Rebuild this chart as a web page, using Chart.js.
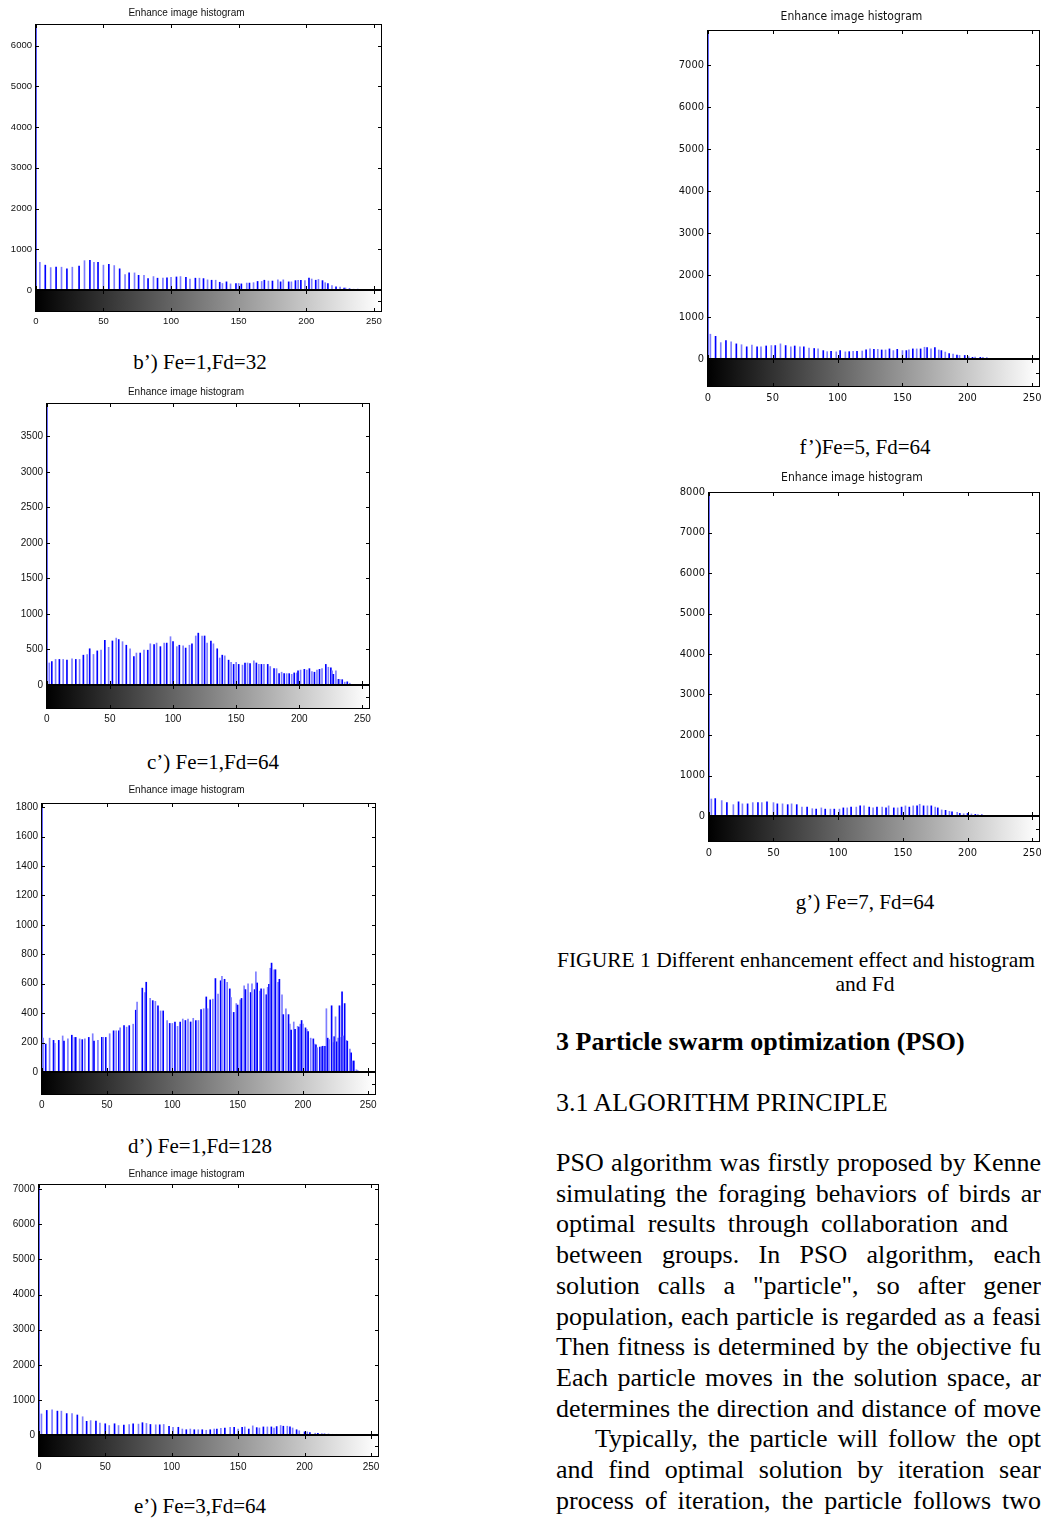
<!DOCTYPE html>
<html>
<head>
<meta charset="utf-8">
<script src="https://cdn.jsdelivr.net/npm/chart.js@4.4.1/dist/chart.umd.min.js"></script>
<style>
body{margin:0;width:1041px;height:1520px;overflow:hidden;background:#fff;position:relative;font-family:"Liberation Serif","Times New Roman",serif;color:#000}
canvas{position:absolute}
.cap{position:absolute;font-size:21px;line-height:24px;white-space:nowrap;transform:translateX(-50%)}
.txt{position:absolute;left:556px;font-size:26px;line-height:30px;white-space:nowrap}
</style>
</head>
<body>
<canvas id="histB"></canvas>
<canvas id="histC"></canvas>
<canvas id="histD"></canvas>
<canvas id="histE"></canvas>
<canvas id="histF"></canvas>
<canvas id="histG"></canvas>

<div class="cap" style="left:200px;top:350px">b’) Fe=1,Fd=32</div>
<div class="cap" style="left:213px;top:750px">c’) Fe=1,Fd=64</div>
<div class="cap" style="left:200px;top:1134px">d’) Fe=1,Fd=128</div>
<div class="cap" style="left:200px;top:1494px">e’) Fe=3,Fd=64</div>
<div class="cap" style="left:865px;top:435px">f’)Fe=5, Fd=64</div>
<div class="cap" style="left:865px;top:890px">g’) Fe=7, Fd=64</div>

<div class="cap" style="left:557px;top:948px;transform:none;font-size:21.5px">FIGURE 1 Different enhancement effect and histogram</div>
<div class="cap" style="left:865px;top:972px;font-size:21.5px">and Fd</div>
<div class="txt" style="top:1027px;font-weight:bold">3 Particle swarm optimization (PSO)</div>
<div class="txt" style="top:1088px">3.1 ALGORITHM PRINCIPLE</div>
<div id="para"></div>

<script>
// gray level / pixel count pairs
const histB = [[0,6530],[3,680],[7,610],[11,550],[15,560],[19,560],[23,520],[27,560],[32,590],[36,720],[40,730],[43,680],[46,680],[50,610],[54,630],[58,600],[62,520],[66,380],[69,420],[73,420],[76,360],[80,360],[83,280],[87,330],[90,290],[94,290],[97,300],[100,310],[104,320],[107,330],[111,310],[114,270],[118,290],[121,290],[124,280],[127,250],[130,240],[133,240],[136,190],[138,160],[141,200],[144,150],[148,160],[150,160],[152,150],[156,170],[158,170],[161,180],[164,210],[167,210],[169,240],[172,220],[175,220],[179,250],[181,200],[183,250],[187,200],[189,200],[192,230],[194,240],[196,240],[199,230],[202,290],[204,270],[207,240],[209,260],[212,230],[214,180],[216,160],[219,110],[222,80],[225,70],[228,50],[229,50],[232,30],[235,20],[238,20],[240,15],[243,10],[246,8],[249,6],[252,5],[255,4]];

const histC = [[0,3970],[2,310],[4,330],[7,360],[10,360],[13,360],[16,350],[20,370],[23,360],[26,360],[29,420],[32,430],[34,510],[37,430],[40,480],[43,490],[46,630],[49,530],[52,620],[55,660],[57,640],[60,610],[63,560],[66,510],[69,400],[71,450],[74,450],[77,490],[80,490],[82,580],[85,570],[87,590],[90,540],[93,590],[95,590],[98,680],[100,610],[103,540],[105,560],[108,550],[110,520],[113,560],[115,580],[118,690],[120,730],[123,690],[125,690],[127,590],[130,620],[132,580],[135,510],[137,380],[139,420],[141,410],[144,350],[146,320],[148,290],[150,320],[152,290],[155,280],[157,310],[159,310],[161,300],[164,340],[166,310],[168,290],[170,290],[172,290],[175,290],[177,260],[180,230],[182,230],[184,160],[186,180],[188,160],[190,160],[192,160],[194,150],[196,170],[198,170],[199,200],[201,210],[204,220],[206,210],[208,230],[210,190],[212,180],[214,210],[216,220],[218,230],[221,290],[223,250],[225,240],[226,200],[227,150],[229,200],[231,80],[232,80],[234,75],[236,40],[238,45],[240,25]];

const histD = [[0,1828],[1,230],[3,190],[6,230],[9,215],[10,195],[13,215],[16,245],[17,210],[20,225],[23,250],[25,235],[26,235],[29,225],[31,220],[33,225],[36,235],[39,260],[40,210],[43,215],[46,235],[47,235],[49,235],[52,260],[55,280],[57,280],[59,280],[60,300],[63,315],[65,305],[67,315],[70,325],[72,420],[73,475],[77,570],[79,540],[80,610],[83,500],[85,485],[87,480],[89,450],[91,415],[93,415],[96,350],[98,330],[100,330],[102,340],[104,310],[106,340],[108,360],[110,350],[112,360],[114,340],[116,365],[118,350],[120,350],[122,425],[124,430],[126,510],[127,430],[129,490],[131,495],[133,635],[135,530],[137,620],[138,650],[140,630],[142,610],[144,565],[145,505],[147,405],[149,465],[150,455],[152,490],[153,500],[155,585],[156,560],[158,600],[160,540],[161,600],[163,560],[164,680],[165,605],[167,550],[168,565],[170,565],[172,525],[173,575],[174,595],[175,705],[176,740],[178,695],[179,695],[181,610],[182,630],[184,525],[185,390],[187,430],[189,390],[190,325],[191,285],[193,340],[194,290],[196,310],[197,305],[198,325],[199,350],[200,325],[202,300],[203,290],[204,275],[206,230],[208,225],[209,190],[210,185],[211,165],[213,170],[214,170],[215,175],[216,175],[217,175],[218,430],[219,230],[220,220],[222,450],[223,200],[224,240],[225,375],[226,205],[227,230],[228,450],[229,235],[230,545],[231,245],[232,465],[233,215],[234,210],[236,155],[237,130],[238,75],[239,75],[241,15],[242,7]];

const histE = [[0,7150],[2,600],[6,700],[10,720],[14,680],[17,680],[21,610],[25,610],[29,570],[33,520],[36,390],[39,410],[43,400],[46,340],[50,320],[53,270],[57,320],[60,270],[64,280],[68,300],[71,320],[75,310],[78,350],[81,330],[84,300],[88,290],[91,290],[94,300],[98,250],[101,220],[105,220],[108,170],[111,150],[114,170],[117,150],[120,150],[123,150],[126,135],[129,150],[132,170],[134,170],[137,190],[140,200],[144,220],[147,220],[150,170],[153,220],[155,230],[158,170],[161,260],[164,210],[166,200],[169,230],[172,230],[175,230],[177,200],[179,240],[182,270],[184,250],[187,250],[189,230],[191,200],[194,150],[196,120],[200,90],[202,90],[204,70],[208,50],[210,50],[213,40],[215,30],[218,30],[221,20],[224,20],[229,10]];

const histF = [[0,7830],[2,590],[6,540],[10,390],[14,440],[18,410],[22,360],[26,340],[30,290],[34,330],[38,290],[41,290],[45,310],[49,320],[52,320],[56,360],[60,320],[64,290],[67,310],[71,290],[74,290],[78,260],[82,250],[85,240],[89,200],[92,175],[95,180],[99,170],[102,200],[106,170],[109,175],[112,180],[115,180],[119,190],[122,220],[125,240],[128,230],[131,230],[134,215],[137,215],[140,240],[143,200],[146,230],[150,200],[153,200],[155,220],[158,240],[161,240],[164,240],[167,280],[169,270],[172,240],[175,270],[178,215],[180,200],[183,165],[186,130],[189,120],[192,95],[194,85],[198,85],[201,55],[204,40],[206,45],[210,40],[212,40],[215,25],[220,15],[225,12],[230,10],[235,8],[240,8],[245,6],[250,6],[255,5]];

const histG = [[0,8000],[2,420],[5,430],[10,380],[14,330],[19,280],[23,350],[26,300],[30,300],[34,330],[38,330],[41,330],[45,350],[50,330],[53,300],[57,300],[61,280],[64,300],[68,280],[72,220],[76,220],[80,180],[83,170],[87,200],[90,170],[94,170],[97,170],[101,170],[104,200],[107,200],[110,220],[114,220],[117,250],[120,250],[124,220],[127,200],[130,220],[134,220],[137,200],[139,250],[143,200],[146,200],[149,220],[152,250],[155,220],[158,250],[161,250],[163,290],[166,250],[169,250],[172,250],[175,220],[177,200],[180,150],[183,140],[186,115],[188,100],[192,90],[194,65],[197,55],[200,65],[203,50],[206,40],[208,35],[211,30]];

const xTicks = [0, 50, 100, 150, 200, 250];
const titleText = 'Enhance image histogram';

const paraLines = [
  ['PSO algorithm was firstly proposed by Kenne', 0, 485],
  ['simulating the foraging behaviors of birds ar', 0, 485],
  ['optimal results through collaboration and', 0, 452],
  ['between groups. In PSO algorithm, each', 0, 485],
  ['solution calls a "particle", so after gener', 0, 485],
  ['population, each particle is regarded as a feasi', 0, 485],
  ['Then fitness is determined by the objective fu', 0, 485],
  ['Each particle moves in the solution space, ar', 0, 485],
  ['determines the direction and distance of move', 0, 485],
  ['Typically, the particle will follow the opt', 39, 446],
  ['and find optimal solution by iteration sear', 0, 485],
  ['process of iteration, the particle follows two', 0, 485]
];

const sans = '"Liberation Sans", Arial, sans-serif';
const narrow = '"Liberation Sans Narrow", "DejaVu Sans Condensed", "Liberation Sans", sans-serif';

// MATLAB-like box: inward ticks, colour bar under the zero line
const histFrame = {
  id: 'histFrame',
  beforeDatasetsDraw(chart) {
    const {ctx, chartArea: a, scales: {x, y}} = chart;
    const y0 = y.getPixelForValue(0);
    const grd = ctx.createLinearGradient(x.getPixelForValue(0), 0, x.getPixelForValue(255), 0);
    grd.addColorStop(0, '#000');
    grd.addColorStop(1, '#fff');
    ctx.save();
    ctx.fillStyle = grd;
    ctx.fillRect(a.left, y0, a.right - a.left, a.bottom - y0);
    ctx.restore();
  },
  afterDatasetsDraw(chart) {
    const {ctx, chartArea: a, scales: {x, y}} = chart;
    const y0 = Math.round(y.getPixelForValue(0));
    ctx.save();
    ctx.strokeStyle = '#000';
    ctx.lineWidth = 1;
    ctx.beginPath();
    x.ticks.forEach(t => {
      const px = Math.round(x.getPixelForValue(t.value)) + 0.5;
      ctx.moveTo(px, a.top); ctx.lineTo(px, a.top + 4);
      ctx.moveTo(px, y0); ctx.lineTo(px, y0 - 4);
      ctx.moveTo(px, y0); ctx.lineTo(px, y0 + 4);
      ctx.moveTo(px, a.bottom); ctx.lineTo(px, a.bottom - 4);
    });
    y.ticks.forEach(t => {
      const py = Math.round(y.getPixelForValue(t.value)) + 0.5;
      ctx.moveTo(a.left, py); ctx.lineTo(a.left + 4, py);
      ctx.moveTo(a.right, py); ctx.lineTo(a.right - 4, py);
    });
    const ym = Math.round((y0 + a.bottom) / 2) + 0.5;
    ctx.moveTo(a.right, ym); ctx.lineTo(a.right - 4, ym);
    ctx.stroke();
    ctx.strokeRect(Math.round(a.left) + 0.5, Math.round(a.top) + 0.5,
      Math.round(a.right - a.left) - 1, Math.round(a.bottom - a.top) - 1);
    ctx.lineWidth = 2;
    ctx.beginPath();
    ctx.moveTo(a.left, y0); ctx.lineTo(a.right, y0);
    ctx.stroke();
    ctx.restore();
  }
};

function makeHist(id, pairs, ymax, step, g, f) {
  const L = 44, B = 24;
  const T = g.pt - g.ty + 12;
  const cv = document.getElementById(id);
  const w = (g.pr - g.pl) + 2 * L, h = T + (g.pb - g.pt) + B;
  cv.width = w; cv.height = h;
  cv.style.width = w + 'px'; cv.style.height = h + 'px';
  cv.style.left = (g.pl - L) + 'px'; cv.style.top = (g.pt - T) + 'px';
  const lh = f.title * 1.2;
  const padTop = 13 - lh / 2;
  const padBot = T - padTop - lh;
  const ymin = -ymax * (g.pb - g.zy) / (g.zy - g.pt);
  new Chart(cv, {
    type: 'bar',
    data: {
      datasets: [{
        data: pairs.map(p => ({x: p[0], y: p[1]})),
        backgroundColor: c => (c.dataIndex % 2 ? '#7d7dff' : '#0000ff'),
        borderWidth: 0,
        barThickness: 1
      }]
    },
    options: {
      responsive: false,
      animation: false,
      events: [],
      layout: {padding: {left: 0, right: L, top: 0, bottom: 0}},
      plugins: {
        legend: {display: false},
        tooltip: {enabled: false},
        title: {
          display: true, text: titleText, color: '#111',
          font: {family: f.family, size: f.title, weight: 'normal'},
          padding: {top: padTop, bottom: padBot}
        }
      },
      scales: {
        x: {
          type: 'linear', min: -0.6, max: 256, offset: false,
          grid: {display: false, drawTicks: false}, border: {display: false},
          ticks: {padding: f.xpad, color: '#111', maxRotation: 0, font: {family: f.family, size: f.tick},
                  callback: v => String(v)},
          afterBuildTicks: s => { s.ticks = xTicks.map(v => ({value: v})); },
          afterFit: s => { s.height = B; }
        },
        y: {
          min: ymin, max: ymax,
          grid: {display: false, drawTicks: false}, border: {display: false},
          ticks: {padding: 3, color: '#111', font: {family: f.family, size: f.tick},
                  callback: v => String(v)},
          afterBuildTicks: s => {
            const t = [];
            for (let v = 0; v <= ymax + 1e-6; v += step) t.push({value: v});
            s.ticks = t;
          },
          afterFit: s => { s.width = L; }
        }
      }
    },
    plugins: [histFrame]
  });
}

const leftFont = {family: sans, title: 10, tick: 10, xpad: 4};
const rightFont = {family: narrow, title: 12, tick: 11, xpad: 5};

makeHist('histB', histB, 6530, 1000, {pl: 35, pt: 24, pr: 382, zy: 290, pb: 312, ty: 12}, {family: sans, title: 10, tick: 9.5, xpad: 4});
makeHist('histC', histC, 3970, 500, {pl: 46, pt: 403, pr: 370, zy: 685, pb: 709, ty: 391}, leftFont);
makeHist('histD', histD, 1828, 200, {pl: 41, pt: 803, pr: 376, zy: 1072, pb: 1095, ty: 789}, leftFont);
makeHist('histE', histE, 7150, 1000, {pl: 38, pt: 1184, pr: 379, zy: 1435, pb: 1457, ty: 1173}, leftFont);
makeHist('histF', histF, 7830, 1000, {pl: 707, pt: 30, pr: 1040, zy: 359, pb: 387, ty: 16}, rightFont);
makeHist('histG', histG, 8000, 1000, {pl: 708, pt: 492, pr: 1040, zy: 816, pb: 842, ty: 477}, rightFont);

// body text, one justified line per div
const para = document.getElementById('para');
paraLines.forEach((ln, i) => {
  const d = document.createElement('div');
  d.className = 'txt';
  d.textContent = ln[0];
  d.style.top = (1148 + i * 30.7) + 'px';
  d.style.left = (556 + ln[1]) + 'px';
  para.appendChild(d);
  const gaps = ln[0].split(' ').length - 1;
  const extra = (ln[2] - d.getBoundingClientRect().width) / gaps;
  d.style.wordSpacing = extra.toFixed(2) + 'px';
});
</script>
</body>
</html>
